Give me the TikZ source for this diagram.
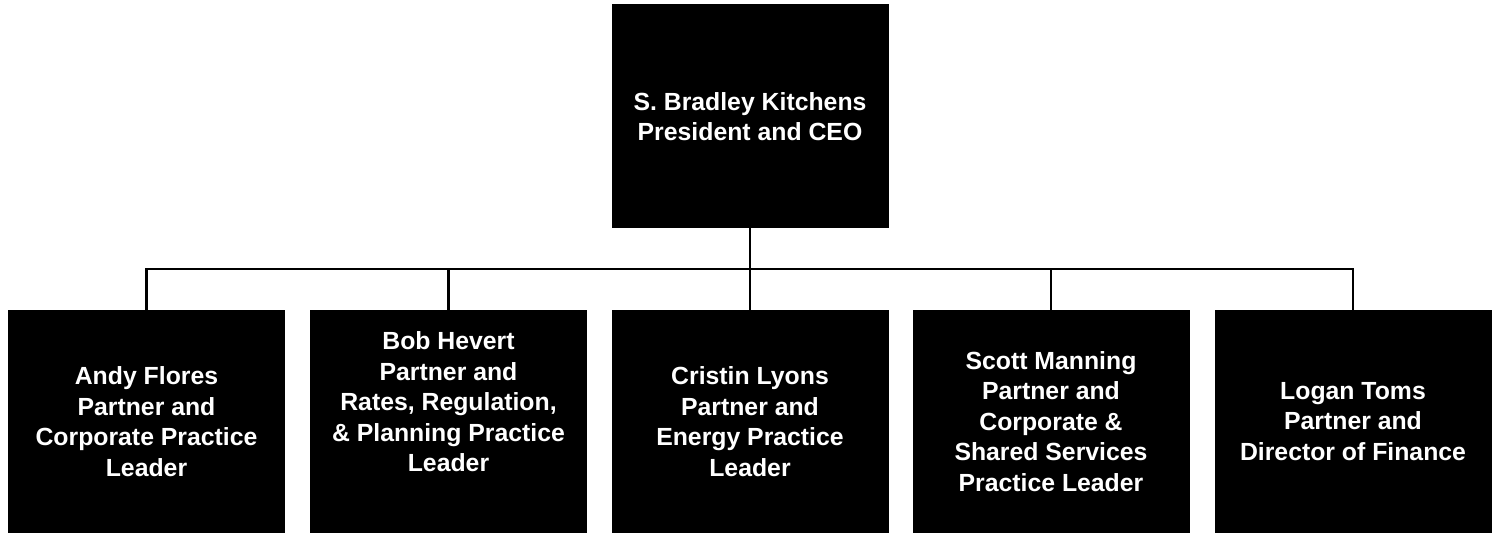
\documentclass[tikz,border=0pt]{standalone}
\usepackage{fontspec}
\setmainfont{Liberation Sans}
\begin{document}
\begin{tikzpicture}[x=1pt,y=-1pt,
  box/.style={draw=black,fill=black,line width=1pt,text=white,align=center,
    font=\bfseries\fontsize{24.8}{30.5}\selectfont,inner sep=0pt,
    minimum width=276pt,minimum height=221pt},
  conn/.style={line width=2.5pt,draw=black}]
\useasboundingbox (0,0) rectangle (1498,534);
\node[box,minimum height=223pt] (ceo) at (750,116.5) {S. Bradley Kitchens\\President and CEO};
\node[box] (c1) at (146.5,421.5) {Andy Flores\\Partner and\\Corporate Practice\\Leader};
\node[box] (c2) at (448.5,421.5) {Bob Hevert\\Partner and\\Rates, Regulation,\\\& Planning Practice\\Leader\\\strut};
\node[box] (c3) at (750,421.5) {Cristin Lyons\\Partner and\\Energy Practice\\Leader};
\node[box] (c4) at (1051,421.5) {Scott Manning\\Partner and\\Corporate \&\\Shared Services\\Practice Leader};
\node[box] (c5) at (1353,421.5) {Logan Toms\\Partner and\\Director of Finance};
\coordinate (bus) at (0,269);
\draw[conn] (ceo.south) -- (ceo.south |- bus);
\draw[conn] (c1.north) -- (c1.north |- bus) -- (c5.north |- bus) -- (c5.north);
\draw[conn] (c2.north) -- (c2.north |- bus);
\draw[conn] (c3.north) -- (c3.north |- bus);
\draw[conn] (c4.north) -- (c4.north |- bus);
\end{tikzpicture}
\end{document}
